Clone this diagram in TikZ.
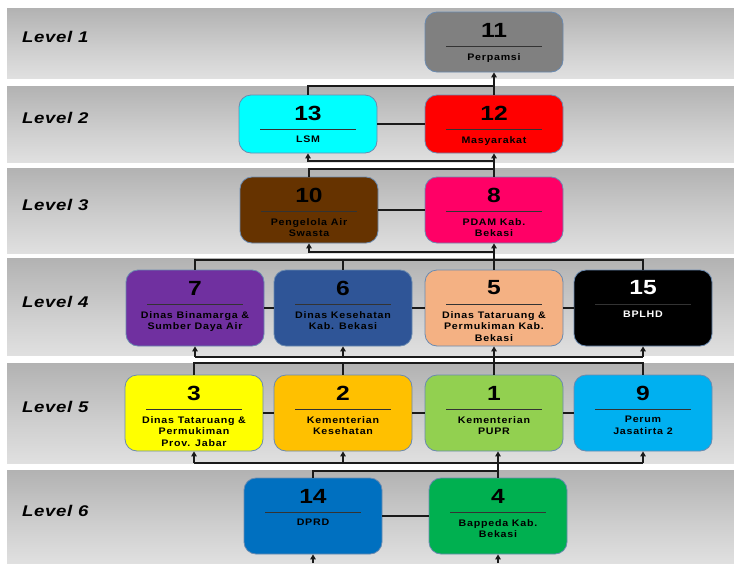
\documentclass[tikz,border=0pt]{standalone}
\usepackage{fontspec}
\setmainfont{Liberation Sans}
\newfontfamily\numf{Liberation Sans}[FakeStretch=1.2]
\newfontfamily\namef{Liberation Sans}[FakeStretch=1.12,LetterSpace=8]
\newfontfamily\levf{Liberation Sans}[FakeStretch=1.2,LetterSpace=4]
\usetikzlibrary{arrows.meta}

\definecolor{boxedge}{HTML}{6A8AB0}
\definecolor{divcol}{HTML}{333333}
\definecolor{bandtop}{HTML}{9A9A9A}
\definecolor{bandmid}{HTML}{CFCFCF}
\definecolor{bandbot}{HTML}{F5F5F5}
\definecolor{linecol}{HTML}{1A1A1A}
\definecolor{c11}{HTML}{808080}
\definecolor{c13}{HTML}{00FFFF}
\definecolor{c12}{HTML}{FF0000}
\definecolor{c10}{HTML}{663300}
\definecolor{c8}{HTML}{FF0066}
\definecolor{c7}{HTML}{7030A0}
\definecolor{c6}{HTML}{2F5597}
\definecolor{c5}{HTML}{F4B183}
\definecolor{c15}{HTML}{000000}
\definecolor{c3}{HTML}{FFFF00}
\definecolor{c2}{HTML}{FFC000}
\definecolor{c1}{HTML}{92D050}
\definecolor{c9}{HTML}{00B0F0}
\definecolor{c14}{HTML}{0070C0}
\definecolor{c4}{HTML}{00B050}

\pgfdeclareverticalshading{bandshade}{100bp}{%
  color(0bp)=(bandbot); color(45bp)=(bandmid); color(100bp)=(bandtop)}

\tikzset{
  orgbox/.style={draw=boxedge, line width=0.8pt, rounded corners=12pt,
    minimum width=138pt, inner sep=0pt},
  ln/.style={draw=linecol, line width=1.5pt},
  arr/.style={ln, -{Triangle[length=5pt,width=5.5pt]}},
  band/.style={shading=bandshade, draw=none},
  lev/.style={anchor=west, inner sep=0pt, font=\levf\bfseries\itshape\fontsize{15.5}{18}\selectfont},
  num/.style={inner sep=0pt, font=\numf\bfseries\fontsize{20.5}{23}\selectfont},
  nm/.style={inner sep=0pt, anchor=north, align=center, font=\namef\bfseries\fontsize{9.5}{11.8}\selectfont},
  divider/.style={draw=divcol, line width=0.9pt},
}

% name, cx, top, height, fill, text colour, number, label
\newcommand\obox[8]{%
  \node[orgbox, fill=#5, minimum height=#4pt] (#1) at (#2, #3+#4/2) {};
  \node[num, text=#6] (#1n) at (#2, #3+18) {#7};
  \draw[divider] (#2-48, #3+34) -- (#2+48, #3+34);
  \node[nm, text=#6] (#1t) at (#2, #3+41) {#8};
}

\begin{document}
\begin{tikzpicture}[x=1pt, y=-1pt]
\useasboundingbox (0,0) rectangle (734,563);
\fill[white] (0,0) rectangle (734,563);

% bands (drawn in an unflipped scope so the shading runs dark at the top)
\begin{scope}[y=1pt]
\shade[band] (7,-8) rectangle (734,-78);
\shade[band] (7,-86) rectangle (734,-162);
\shade[band] (7,-168) rectangle (734,-253);
\shade[band] (7,-258) rectangle (734,-355);
\shade[band] (7,-363) rectangle (734,-463);
\shade[band] (7,-470) rectangle (734,-563);
\end{scope}

% level labels
\node[lev] (lv1) at (22,37) {Level 1};
\node[lev] (lv2) at (22,118) {Level 2};
\node[lev] (lv3) at (22,205) {Level 3};
\node[lev] (lv4) at (22,302) {Level 4};
\node[lev] (lv5) at (22,407) {Level 5};
\node[lev] (lv6) at (22,511) {Level 6};

% boxes
\obox{n11}{494}{12}{60}{c11}{black}{11}{Perpamsi}
\obox{n13}{308}{95}{58}{c13}{black}{13}{LSM}
\obox{n12}{494}{95}{58}{c12}{black}{12}{Masyarakat}
\obox{n10}{309}{177}{66}{c10}{black}{10}{Pengelola Air\\Swasta}
\obox{n8}{494}{177}{66}{c8}{black}{8}{PDAM Kab.\\Bekasi}
\obox{n7}{195}{270}{76}{c7}{black}{7}{Dinas Binamarga \&\\Sumber Daya Air}
\obox{n6}{343}{270}{76}{c6}{black}{6}{Dinas Kesehatan\\Kab. Bekasi}
\obox{n5}{494}{270}{76}{c5}{black}{5}{Dinas Tataruang \&\\Permukiman Kab.\\Bekasi}
\obox{n15}{643}{270}{76}{c15}{white}{15}{BPLHD}
\obox{n3}{194}{375}{76}{c3}{black}{3}{Dinas Tataruang \&\\Permukiman\\Prov. Jabar}
\obox{n2}{343}{375}{76}{c2}{black}{2}{Kementerian\\Kesehatan}
\obox{n1}{494}{375}{76}{c1}{black}{1}{Kementerian\\PUPR}
\obox{n9}{643}{375}{76}{c9}{black}{9}{Perum\\Jasatirta 2}
\obox{n14}{313}{478}{76}{c14}{black}{14}{DPRD}
\obox{n4}{498}{478}{76}{c4}{black}{4}{Bappeda Kab.\\Bekasi}

% bus levels
\coordinate (b12) at (0,86);
\coordinate (b23a) at (0,161);
\coordinate (b23b) at (0,169);
\coordinate (b34a) at (0,252);
\coordinate (b34b) at (0,260);
\coordinate (b45a) at (0,357);
\coordinate (b45b) at (0,363);
\coordinate (b56a) at (0,463);
\coordinate (b56b) at (0,471);
\coordinate (bot14) at (313,563);
\coordinate (bot4) at (498,563);

% level 1-2
\draw[arr] (n12.north) -- (n11.south);
\draw[ln] (n13.north) |- (n12.north |- b12);
\draw[ln] (n13.east) -- (n12.west);

% level 2-3
\draw[arr] (n8.north) -- (n12.south);
\draw[arr] (n8.north |- b23a) -| (n13.south);
\draw[ln] (n10.north) |- (n8.north |- b23b);
\draw[ln] (n10.east) -- (n8.west);

% level 3-4
\draw[arr] (n5.north) -- (n8.south);
\draw[arr] (n5.north |- b34a) -| (n10.south);
\draw[ln] (n7.north) |- (n15.north |- b34b) -- (n15.north);
\draw[ln] (n6.north) -- (n6.north |- b34b);
\draw[ln] (n7.east) -- (n6.west);
\draw[ln] (n6.east) -- (n5.west);
\draw[ln] (n5.east) -- (n15.west);

% level 4-5
\draw[arr] (n1.north) -- (n5.south);
\draw[ln] (n7.south |- b45a) -- (n15.south |- b45a);
\draw[arr] (n7.south |- b45a) -- (n7.south);
\draw[arr] (n6.south |- b45a) -- (n6.south);
\draw[arr] (n15.south |- b45a) -- (n15.south);
\draw[ln] (n3.north) |- (n9.north |- b45b) -- (n9.north);
\draw[ln] (n2.north) -- (n2.north |- b45b);
\draw[ln] (n3.east) -- (n2.west);
\draw[ln] (n2.east) -- (n1.west);
\draw[ln] (n1.east) -- (n9.west);

% level 5-6
\draw[arr] (n4.north) -- (n4.north |- n1.south);
\draw[ln] (n3.south |- b56a) -- (n9.south |- b56a);
\draw[arr] (n3.south |- b56a) -- (n3.south);
\draw[arr] (n2.south |- b56a) -- (n2.south);
\draw[arr] (n9.south |- b56a) -- (n9.south);
\draw[ln] (n14.north) |- (n4.north |- b56b);
\draw[ln] (n14.east) -- (n4.west);

% level 6 inputs
\draw[arr] (bot14) -- (n14.south);
\draw[arr] (bot4) -- (n4.south);
\end{tikzpicture}
\end{document}
